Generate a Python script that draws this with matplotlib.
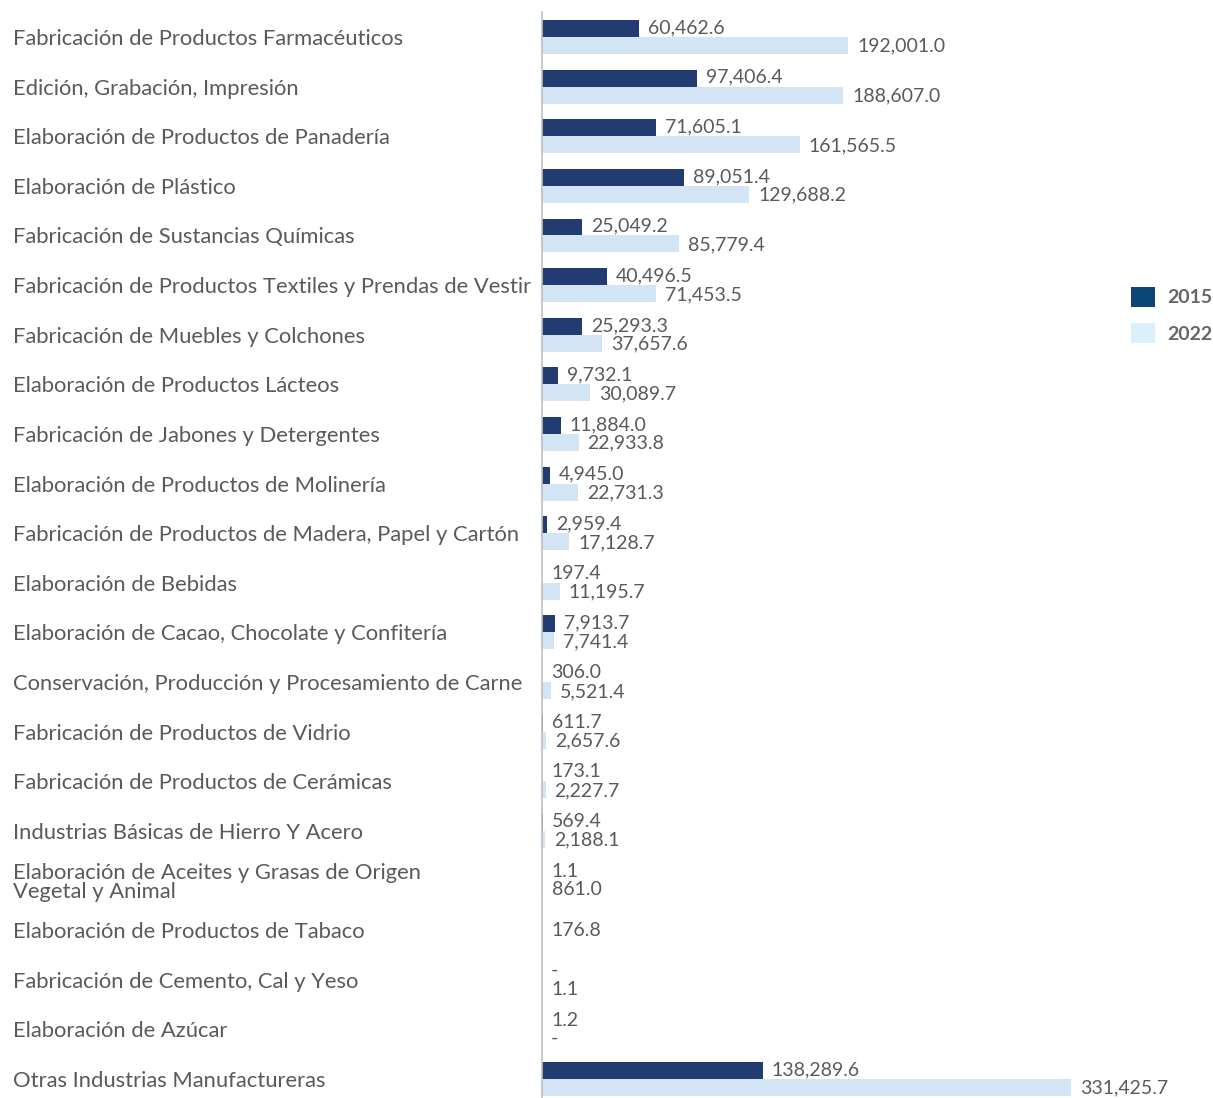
import matplotlib
matplotlib.use("Agg")
import matplotlib.pyplot as plt
from matplotlib.patches import Patch
from matplotlib.transforms import offset_copy

plt.rcParams["font.family"] = ["Lato", "DejaVu Sans"]

categories = [
    "Fabricación de Productos Farmacéuticos",
    "Edición, Grabación, Impresión",
    "Elaboración de Productos de Panadería",
    "Elaboración de Plástico",
    "Fabricación de Sustancias Químicas",
    "Fabricación de Productos Textiles y Prendas de Vestir",
    "Fabricación de Muebles y Colchones",
    "Elaboración de Productos Lácteos",
    "Fabricación de Jabones y Detergentes",
    "Elaboración de Productos de Molinería",
    "Fabricación de Productos de Madera, Papel y Cartón",
    "Elaboración de Bebidas",
    "Elaboración de Cacao, Chocolate y Confitería",
    "Conservación, Producción y Procesamiento de Carne",
    "Fabricación de Productos de Vidrio",
    "Fabricación de Productos de Cerámicas",
    "Industrias Básicas de Hierro Y Acero",
    "Elaboración de Aceites y Grasas de Origen\nVegetal y Animal",
    "Elaboración de Productos de Tabaco",
    "Fabricación de Cemento, Cal y Yeso",
    "Elaboración de Azúcar",
    "Otras Industrias Manufactureras",
]
# None = no value shown, 0 = shown as "-"
values_2015 = [60462.6, 97406.4, 71605.1, 89051.4, 25049.2, 40496.5, 25293.3,
               9732.1, 11884.0, 4945.0, 2959.4, 197.4, 7913.7, 306.0, 611.7,
               173.1, 569.4, 1.1, 176.8, 0, 1.2, 138289.6]
values_2022 = [192001.0, 188607.0, 161565.5, 129688.2, 85779.4, 71453.5, 37657.6,
               30089.7, 22933.8, 22731.3, 17128.7, 11195.7, 7741.4, 5521.4, 2657.6,
               2227.7, 2188.1, 861.0, None, 1.1, 0, 331425.7]
series_names = ["2015", "2022"]

BAR_COLORS = ["#223B70", "#D3E5F5"]
LEGEND_COLORS = ["#0B4677", "#DAF0FA"]
TEXT = "#5A5A5A"

W, H = 1213, 1098
fig = plt.figure(figsize=(W / 100, H / 100), dpi=100)
ax_left, ax_right, ax_top = 542, 1100, 12
ax = fig.add_axes([ax_left / W, 0, (ax_right - ax_left) / W, (H - ax_top) / H])

n = len(categories)
bar_h = 0.342
offsets = [-0.171, 0.171]
for vals, off, color in zip([values_2015, values_2022], offsets, BAR_COLORS):
    for i, v in enumerate(vals):
        if v is None:
            continue
        ax.barh(i + off, v, height=bar_h, color=color, linewidth=0)

# value labels
lbl_tr = offset_copy(ax.transData, fig=fig, x=9, y=0, units="dots")
for k, vals in enumerate([values_2015, values_2022]):
    other = values_2022 if k == 0 else values_2015
    for i, v in enumerate(vals):
        if v is None:
            continue
        y = i if other[i] is None else i + offsets[k] * 1.1
        txt = "-" if v == 0 else f"{v:,.1f}"
        ax.text(v, y, txt, transform=lbl_tr, ha="left", va="center",
                fontsize=14, color=TEXT, clip_on=False)

x_max = 331425.7 * (ax_right - ax_left) / (1071 - ax_left)
ax.set_xlim(0, x_max)
ax.set_ylim(21.383, -0.504)
ax.set_xticks([])
ax.set_yticks(range(n), labels=categories)
ax.tick_params(axis="y", length=0, pad=(ax_left - 13) * 0.72, labelsize=15.8,
               labelcolor=TEXT)
for lbl in ax.get_yticklabels():
    lbl.set_ha("left")
    lbl.set_linespacing(0.95)
for side in ["top", "right", "bottom"]:
    ax.spines[side].set_visible(False)
ax.spines["left"].set_color("#BFBFBF")
ax.spines["left"].set_linewidth(1.2)

handles = [Patch(facecolor=c, edgecolor="none") for c in LEGEND_COLORS]
leg = fig.legend(handles, series_names, loc="center left",
                 bbox_to_anchor=(1131 / W, 1 - 315 / H), frameon=False,
                 fontsize=14, handlelength=1.23, handleheight=1.23,
                 handletextpad=0.62, labelspacing=0.82, borderpad=0,
                 borderaxespad=0)
for t in leg.get_texts():
    t.set_color("#666666")
    t.set_fontweight("bold")

fig.savefig("out.png", dpi=100)
